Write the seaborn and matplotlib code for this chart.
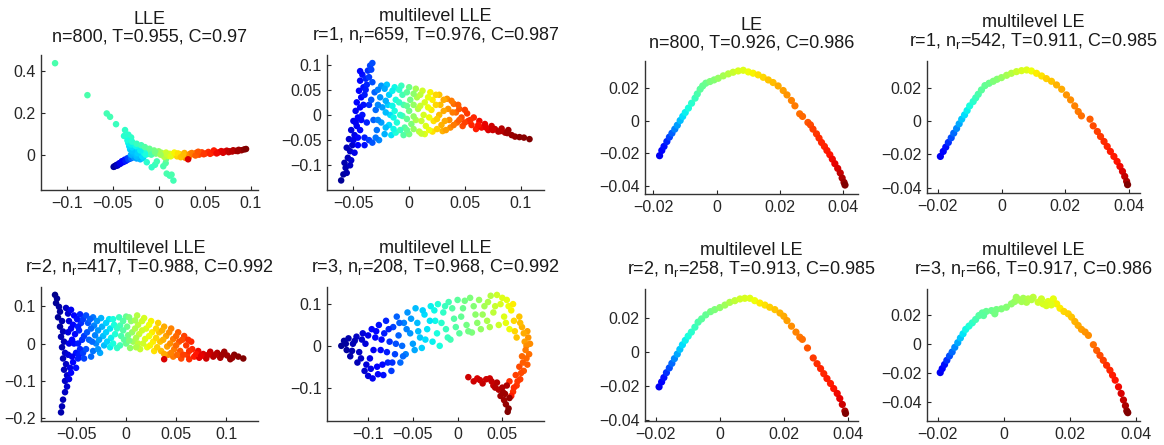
import numpy as np
import pandas as pd
import matplotlib
matplotlib.use("Agg")
import matplotlib.pyplot as plt
from matplotlib.ticker import FuncFormatter
import seaborn as sns

# points: (x, y, colour value 0..1 on jet)
lle_pts = [
    (-0.1127, 0.435, 0.44), (-0.0775, 0.283, 0.44), (-0.0565, 0.196, 0.43), (-0.0529, 0.180, 0.43),
    (-0.0464, 0.145, 0.42), (-0.0366, 0.117, 0.41), (-0.0377, 0.089, 0.40), (-0.0330, 0.095, 0.40),
    (-0.0300, 0.082, 0.41),
    (-0.049, -0.058, 0.02), (-0.047, -0.054, 0.04), (-0.046, -0.049, 0.05), (-0.044, -0.047, 0.07),
    (-0.043, -0.041, 0.08), (-0.041, -0.038, 0.10), (-0.040, -0.031, 0.11), (-0.038, -0.033, 0.13),
    (-0.037, -0.024, 0.14), (-0.035, -0.026, 0.16), (-0.034, -0.017, 0.18), (-0.032, -0.020, 0.20),
    (-0.031, -0.010, 0.22), (-0.029, -0.013, 0.24), (-0.028, -0.004, 0.26), (-0.026, -0.008, 0.28),
    (-0.030, -0.003, 0.25), (-0.024, -0.018, 0.29), (-0.020, -0.022, 0.31), (-0.017, -0.016, 0.33),
    (-0.022, -0.012, 0.30),
    (-0.048, -0.055, 0.03), (-0.045, -0.052, 0.06), (-0.042, -0.044, 0.09), (-0.039, -0.036, 0.12),
    (-0.036, -0.030, 0.15), (-0.033, -0.022, 0.19), (-0.030, -0.017, 0.23), (-0.027, -0.012, 0.27),
    (-0.025, -0.004, 0.29),
    (-0.030, 0.000, 0.30), (-0.028, 0.010, 0.31), (-0.031, 0.025, 0.33), (-0.032, 0.040, 0.34),
    (-0.033, 0.055, 0.36), (-0.034, 0.068, 0.38), (-0.024, -0.010, 0.31), (-0.024, 0.002, 0.32),
    (-0.022, 0.015, 0.34), (-0.026, 0.030, 0.35), (-0.021, 0.040, 0.38), (-0.027, 0.050, 0.37),
    (-0.018, -0.008, 0.34), (-0.016, 0.008, 0.37), (-0.013, 0.022, 0.40), (-0.018, 0.028, 0.39),
    (-0.011, 0.004, 0.40), (-0.023, 0.008, 0.33), (-0.029, 0.018, 0.32), (-0.029, 0.035, 0.34),
    (-0.030, 0.048, 0.36), (-0.025, 0.042, 0.37), (-0.020, 0.020, 0.36), (-0.014, 0.000, 0.38),
    (-0.029, 0.062, 0.40), (-0.024, 0.052, 0.42), (-0.019, 0.045, 0.43), (-0.015, 0.036, 0.45),
    (-0.010, 0.028, 0.47), (-0.005, 0.020, 0.49), (-0.008, 0.012, 0.47), (0.000, 0.016, 0.52),
    (-0.003, 0.005, 0.50), (0.003, 0.009, 0.55), (-0.008, 0.000, 0.44), (-0.004, 0.012, 0.49),
    (-0.013, -0.036, 0.40), (-0.0076, -0.060, 0.41), (-0.004, -0.048, 0.42), (-0.002, -0.032, 0.43),
    (0.005, -0.055, 0.44), (0.0076, -0.040, 0.45), (0.008, -0.020, 0.48), (0.0087, -0.090, 0.44),
    (0.012, -0.100, 0.43), (0.014, -0.095, 0.44), (0.016, -0.123, 0.43),
    (0.005, 0.001, 0.58), (0.008, 0.010, 0.60), (0.010, -0.006, 0.60), (0.012, 0.004, 0.62),
    (0.015, -0.002, 0.64), (0.006, -0.010, 0.57), (0.002, 0.000, 0.54), (0.009, 0.002, 0.59),
    (0.013, -0.008, 0.62),
    (0.018, 0.005, 0.66), (0.020, -0.008, 0.68), (0.023, 0.002, 0.69), (0.026, -0.006, 0.71),
    (0.028, 0.008, 0.72), (0.031, -0.004, 0.74), (0.034, 0.004, 0.75), (0.029, -0.015, 0.76),
    (0.017, 0.010, 0.65), (0.021, 0.006, 0.67), (0.024, -0.012, 0.70), (0.027, 0.000, 0.71),
    (0.033, -0.010, 0.76),
    (0.032, -0.022, 0.92), (0.038, 0.002, 0.80), (0.041, 0.009, 0.82), (0.044, 0.000, 0.83),
    (0.047, 0.011, 0.84), (0.051, 0.006, 0.85), (0.054, 0.013, 0.86), (0.058, 0.009, 0.87),
    (0.061, 0.015, 0.88), (0.036, 0.008, 0.78), (0.040, -0.004, 0.81), (0.043, 0.014, 0.82),
    (0.049, 0.002, 0.85), (0.056, 0.004, 0.87), (0.060, 0.020, 0.88),
    (0.065, 0.011, 0.90), (0.068, 0.017, 0.91), (0.071, 0.014, 0.92), (0.074, 0.019, 0.93),
    (0.077, 0.016, 0.94), (0.081, 0.021, 0.95), (0.084, 0.018, 0.96), (0.087, 0.023, 0.97),
    (0.090, 0.021, 0.98), (0.093, 0.025, 0.99), (0.095, 0.027, 1.00), (0.063, 0.006, 0.90),
    (0.070, 0.009, 0.92), (0.076, 0.012, 0.94), (0.080, 0.015, 0.95), (0.086, 0.017, 0.97),
]

mlle1_pts = [
    (-0.061, -0.130, 0.02), (-0.059, -0.118, 0.03), (-0.057, -0.105, 0.04), (-0.058, -0.095, 0.04),
    (-0.055, -0.085, 0.05), (-0.053, -0.072, 0.06), (-0.056, -0.065, 0.05), (-0.051, -0.060, 0.07),
    (-0.054, -0.048, 0.07), (-0.049, -0.040, 0.09), (-0.052, -0.030, 0.08), (-0.047, -0.022, 0.10),
    (-0.050, -0.012, 0.09), (-0.046, -0.005, 0.11), (-0.048, 0.008, 0.10), (-0.044, 0.015, 0.12),
    (-0.047, 0.025, 0.11), (-0.043, 0.035, 0.13), (-0.045, 0.048, 0.12), (-0.041, 0.055, 0.14),
    (-0.044, 0.068, 0.13), (-0.042, 0.080, 0.14), (-0.044, 0.087, 0.13), (-0.039, 0.072, 0.16),
    (-0.037, 0.088, 0.17), (-0.035, 0.098, 0.19), (-0.033, 0.103, 0.20), (-0.038, 0.060, 0.16),
    (-0.040, 0.040, 0.15), (-0.036, 0.020, 0.17), (-0.042, 0.000, 0.14), (-0.038, -0.015, 0.16),
    (-0.044, -0.030, 0.13), (-0.040, -0.045, 0.15), (-0.046, -0.060, 0.12), (-0.036, -0.050, 0.18),
    (-0.049, -0.075, 0.09), (-0.052, -0.090, 0.07), (-0.043, -0.010, 0.13), (-0.041, 0.020, 0.14),
    (-0.039, 0.050, 0.15), (-0.046, -0.045, 0.11), (-0.040, -0.060, 0.14), (-0.048, -0.015, 0.10),
    (-0.036, 0.075, 0.18), (-0.034, 0.090, 0.19), (-0.053, -0.100, 0.06), (-0.056, -0.115, 0.04),
    (-0.050, -0.050, 0.09),
    (-0.033, 0.065, 0.20), (-0.031, 0.045, 0.22), (-0.034, 0.030, 0.21), (-0.030, 0.010, 0.23),
    (-0.032, -0.010, 0.22), (-0.029, -0.030, 0.24), (-0.033, -0.055, 0.21), (-0.027, -0.050, 0.26),
    (-0.025, 0.058, 0.27), (-0.026, 0.035, 0.27), (-0.024, 0.015, 0.28), (-0.025, -0.015, 0.28),
    (-0.022, -0.038, 0.30), (-0.028, 0.050, 0.25), (-0.028, 0.020, 0.26), (-0.028, -0.010, 0.26),
    (-0.030, -0.045, 0.24),
    (-0.020, 0.060, 0.32), (-0.018, 0.040, 0.33), (-0.019, 0.020, 0.33), (-0.017, 0.000, 0.34),
    (-0.018, -0.020, 0.34), (-0.016, -0.040, 0.35), (-0.013, 0.055, 0.37), (-0.012, 0.030, 0.38),
    (-0.013, 0.008, 0.38), (-0.011, -0.015, 0.39), (-0.012, -0.035, 0.39), (-0.022, 0.052, 0.29),
    (-0.021, 0.028, 0.30), (-0.021, 0.005, 0.31), (-0.021, -0.025, 0.31), (-0.015, 0.048, 0.36),
    (-0.015, 0.018, 0.37), (-0.014, -0.005, 0.37), (-0.014, -0.028, 0.37),
    (-0.007, 0.058, 0.42), (-0.006, 0.040, 0.43), (-0.005, 0.020, 0.44), (-0.006, -0.002, 0.44),
    (-0.004, -0.025, 0.45), (-0.005, -0.040, 0.45), (0.000, 0.055, 0.48), (0.001, 0.030, 0.49),
    (0.000, 0.008, 0.49), (0.002, -0.018, 0.50), (0.000, -0.038, 0.49), (-0.009, 0.050, 0.40),
    (-0.009, 0.025, 0.41), (-0.008, 0.000, 0.41), (-0.008, -0.030, 0.42), (-0.002, 0.045, 0.46),
    (-0.002, 0.018, 0.47), (-0.002, -0.008, 0.47), (-0.002, -0.030, 0.47),
    (0.006, 0.052, 0.55), (0.007, 0.035, 0.56), (0.008, 0.012, 0.57), (0.006, -0.010, 0.56),
    (0.009, -0.033, 0.58), (0.012, 0.048, 0.60), (0.014, 0.025, 0.61), (0.013, 0.000, 0.61),
    (0.015, -0.022, 0.62), (0.014, -0.038, 0.62), (0.004, 0.042, 0.52), (0.004, 0.020, 0.53),
    (0.004, -0.003, 0.53), (0.004, -0.028, 0.53), (0.010, 0.040, 0.58), (0.010, 0.018, 0.59),
    (0.011, -0.012, 0.59), (0.011, -0.037, 0.59),
    (0.019, 0.045, 0.65), (0.021, 0.030, 0.66), (0.020, 0.010, 0.66), (0.022, -0.012, 0.67),
    (0.021, -0.033, 0.67), (0.027, 0.040, 0.70), (0.028, 0.020, 0.71), (0.027, 0.000, 0.71),
    (0.029, -0.020, 0.72), (0.030, -0.032, 0.72), (0.034, 0.032, 0.75), (0.035, 0.012, 0.75),
    (0.036, -0.010, 0.76), (0.037, -0.025, 0.76), (0.017, 0.035, 0.63), (0.017, 0.015, 0.64),
    (0.018, -0.005, 0.64), (0.018, -0.030, 0.64), (0.024, 0.040, 0.68), (0.024, 0.020, 0.68),
    (0.025, -0.008, 0.69), (0.025, -0.028, 0.69), (0.031, 0.030, 0.73), (0.031, 0.008, 0.73),
    (0.032, -0.012, 0.73), (0.033, -0.030, 0.74),
    (0.040, 0.022, 0.79), (0.042, 0.005, 0.80), (0.043, -0.015, 0.80), (0.045, 0.012, 0.82),
    (0.047, -0.005, 0.83), (0.048, -0.022, 0.83), (0.052, 0.003, 0.85), (0.053, -0.012, 0.86),
    (0.056, -0.020, 0.87), (0.058, -0.005, 0.87), (0.060, -0.028, 0.88), (0.038, 0.028, 0.78),
    (0.039, 0.005, 0.78), (0.040, -0.020, 0.78), (0.044, 0.020, 0.81), (0.045, -0.010, 0.81),
    (0.050, 0.010, 0.84), (0.050, -0.015, 0.84), (0.055, -0.010, 0.86),
    (0.063, -0.012, 0.90), (0.065, -0.025, 0.90), (0.068, -0.018, 0.91), (0.071, -0.030, 0.92),
    (0.074, -0.022, 0.93), (0.077, -0.028, 0.94), (0.080, -0.033, 0.95), (0.083, -0.027, 0.95),
    (0.086, -0.035, 0.96), (0.089, -0.030, 0.97), (0.092, -0.040, 0.98), (0.095, -0.043, 0.98),
    (0.103, -0.045, 0.99), (0.108, -0.048, 1.00), (0.062, -0.020, 0.89), (0.069, -0.025, 0.91),
    (0.075, -0.030, 0.93), (0.082, -0.032, 0.95), (0.088, -0.036, 0.97), (0.099, -0.044, 0.99),
]

mlle2_pts = [
    (-0.071, 0.130, 0.01), (-0.069, 0.120, 0.02), (-0.070, 0.108, 0.02), (-0.067, 0.098, 0.03),
    (-0.066, 0.085, 0.03), (-0.068, 0.070, 0.02), (-0.064, 0.060, 0.04), (-0.066, 0.045, 0.03),
    (-0.063, 0.032, 0.05), (-0.065, 0.018, 0.04), (-0.062, 0.005, 0.05), (-0.064, -0.010, 0.04),
    (-0.061, -0.025, 0.06), (-0.063, -0.040, 0.05), (-0.060, -0.055, 0.06), (-0.062, -0.070, 0.05),
    (-0.059, -0.085, 0.07), (-0.061, -0.100, 0.06), (-0.059, -0.115, 0.07), (-0.061, -0.130, 0.06),
    (-0.063, -0.150, 0.05), (-0.064, -0.168, 0.05), (-0.065, -0.184, 0.04), (-0.058, 0.080, 0.07),
    (-0.060, 0.095, 0.06), (-0.057, 0.060, 0.08), (-0.058, 0.030, 0.08), (-0.057, 0.000, 0.09),
    (-0.058, -0.030, 0.08), (-0.056, -0.065, 0.09), (-0.057, -0.095, 0.09),
    (-0.052, 0.075, 0.12), (-0.053, 0.050, 0.12), (-0.051, 0.025, 0.13), (-0.052, 0.000, 0.13),
    (-0.050, -0.025, 0.14), (-0.053, -0.050, 0.12), (-0.055, -0.078, 0.11), (-0.046, 0.078, 0.16),
    (-0.045, 0.055, 0.17), (-0.047, 0.035, 0.16), (-0.044, 0.010, 0.17), (-0.046, -0.015, 0.16),
    (-0.048, -0.040, 0.15), (-0.050, -0.065, 0.14), (-0.055, 0.090, 0.10), (-0.055, 0.040, 0.10),
    (-0.054, 0.010, 0.11), (-0.054, -0.035, 0.10), (-0.049, 0.065, 0.14), (-0.048, 0.045, 0.15),
    (-0.048, 0.000, 0.15), (-0.047, -0.030, 0.15), (-0.043, 0.065, 0.18), (-0.042, 0.020, 0.18),
    (-0.043, -0.025, 0.18),
    (-0.040, 0.075, 0.20), (-0.038, 0.055, 0.21), (-0.039, 0.030, 0.21), (-0.037, 0.010, 0.22),
    (-0.040, -0.015, 0.20), (-0.042, -0.040, 0.19), (-0.033, 0.070, 0.24), (-0.032, 0.048, 0.25),
    (-0.031, 0.022, 0.25), (-0.030, 0.000, 0.26), (-0.033, -0.020, 0.24), (-0.035, -0.035, 0.23),
    (-0.036, 0.065, 0.22), (-0.035, 0.040, 0.23), (-0.034, 0.005, 0.23),
    (-0.025, 0.068, 0.30), (-0.024, 0.045, 0.30), (-0.023, 0.020, 0.31), (-0.022, -0.005, 0.31),
    (-0.026, -0.025, 0.29), (-0.017, 0.065, 0.35), (-0.016, 0.040, 0.35), (-0.015, 0.015, 0.36),
    (-0.016, -0.010, 0.36), (-0.012, 0.050, 0.38), (-0.011, 0.025, 0.39), (-0.029, 0.060, 0.27),
    (-0.028, 0.035, 0.27), (-0.027, 0.010, 0.28), (-0.028, -0.015, 0.27), (-0.020, 0.055, 0.33),
    (-0.020, 0.030, 0.33), (-0.019, 0.005, 0.33), (-0.013, 0.065, 0.38), (-0.013, 0.000, 0.38),
    (-0.007, 0.070, 0.42), (-0.006, 0.048, 0.43), (-0.005, 0.020, 0.44), (-0.006, -0.005, 0.43),
    (-0.009, -0.012, 0.41), (0.000, 0.072, 0.47), (0.001, 0.045, 0.48), (0.002, 0.022, 0.49),
    (0.000, 0.000, 0.48), (0.005, 0.060, 0.52), (0.006, 0.030, 0.53), (0.007, 0.005, 0.54),
    (0.004, -0.012, 0.52), (-0.009, 0.040, 0.41), (-0.003, 0.060, 0.45), (-0.003, 0.035, 0.45),
    (-0.002, 0.010, 0.46), (0.003, 0.070, 0.50), (0.003, 0.008, 0.50),
    (0.011, 0.075, 0.57), (0.012, 0.050, 0.58), (0.013, 0.025, 0.59), (0.012, 0.000, 0.58),
    (0.014, -0.015, 0.59), (0.018, 0.068, 0.61), (0.020, 0.040, 0.62), (0.019, 0.012, 0.62),
    (0.021, -0.010, 0.63), (0.025, 0.060, 0.65), (0.026, 0.030, 0.66), (0.027, 0.005, 0.66),
    (0.028, -0.020, 0.67), (0.009, 0.062, 0.55), (0.009, 0.040, 0.56), (0.010, 0.015, 0.56),
    (0.010, -0.010, 0.56), (0.016, 0.060, 0.60), (0.016, 0.035, 0.60), (0.017, 0.000, 0.60),
    (0.023, 0.050, 0.64), (0.023, 0.020, 0.64), (0.024, -0.005, 0.65),
    (0.032, 0.055, 0.69), (0.033, 0.030, 0.70), (0.034, 0.005, 0.70), (0.035, -0.020, 0.71),
    (0.038, 0.045, 0.73), (0.040, 0.020, 0.74), (0.041, -0.008, 0.74), (0.042, -0.030, 0.75),
    (0.045, 0.040, 0.77), (0.047, 0.012, 0.78), (0.048, -0.015, 0.78), (0.047, -0.035, 0.78),
    (0.030, 0.040, 0.68), (0.030, 0.015, 0.68), (0.031, -0.010, 0.69), (0.036, 0.035, 0.72),
    (0.037, 0.010, 0.72), (0.038, -0.028, 0.73), (0.043, 0.030, 0.76), (0.044, 0.000, 0.76),
    (0.045, -0.025, 0.77),
    (0.052, 0.030, 0.81), (0.053, 0.005, 0.82), (0.054, -0.020, 0.82), (0.055, -0.040, 0.83),
    (0.058, 0.020, 0.84), (0.060, -0.005, 0.85), (0.061, -0.030, 0.85), (0.063, -0.042, 0.86),
    (0.065, 0.005, 0.87), (0.066, -0.015, 0.87), (0.068, -0.035, 0.88), (0.050, 0.020, 0.80),
    (0.050, -0.005, 0.80), (0.051, -0.030, 0.80), (0.056, 0.010, 0.83), (0.057, -0.030, 0.84),
    (0.062, 0.010, 0.86), (0.063, -0.020, 0.86),
    (0.038, -0.042, 0.92), (0.072, -0.020, 0.90), (0.073, -0.038, 0.91), (0.077, -0.028, 0.92),
    (0.080, -0.040, 0.93), (0.084, -0.022, 0.94), (0.087, -0.035, 0.95), (0.091, -0.025, 0.96),
    (0.094, -0.038, 0.96), (0.098, -0.022, 0.97), (0.101, -0.032, 0.97), (0.104, -0.042, 0.98),
    (0.108, -0.030, 0.99), (0.112, -0.035, 0.99), (0.117, -0.040, 1.00), (0.070, -0.028, 0.89),
    (0.075, -0.033, 0.91), (0.082, -0.030, 0.93), (0.089, -0.030, 0.95), (0.096, -0.030, 0.97),
    (0.106, -0.038, 0.98),
]

mlle3_pts = [
    (-0.130, 0.000, 0.02), (-0.127, 0.012, 0.03), (-0.122, 0.018, 0.04), (-0.124, -0.010, 0.03),
    (-0.120, -0.025, 0.04), (-0.117, 0.005, 0.05), (-0.113, 0.022, 0.06), (-0.112, -0.040, 0.05),
    (-0.110, -0.015, 0.06), (-0.106, 0.030, 0.08), (-0.104, -0.060, 0.07), (-0.103, 0.005, 0.08),
    (-0.100, -0.072, 0.08), (-0.098, -0.030, 0.09), (-0.095, -0.078, 0.10), (-0.096, 0.040, 0.11),
    (-0.125, 0.005, 0.03), (-0.118, -0.012, 0.04), (-0.115, 0.012, 0.05), (-0.108, -0.030, 0.06),
    (-0.107, 0.015, 0.07), (-0.102, -0.045, 0.08), (-0.100, 0.025, 0.09), (-0.097, -0.055, 0.09),
    (-0.094, -0.010, 0.10),
    (-0.092, 0.020, 0.12), (-0.090, -0.050, 0.12), (-0.088, 0.050, 0.14), (-0.086, -0.010, 0.13),
    (-0.083, -0.070, 0.14), (-0.082, 0.030, 0.15), (-0.080, 0.060, 0.16), (-0.078, -0.040, 0.16),
    (-0.076, 0.010, 0.17), (-0.074, -0.060, 0.18), (-0.072, 0.045, 0.19), (-0.070, -0.020, 0.19),
    (-0.091, 0.035, 0.12), (-0.089, -0.068, 0.11), (-0.085, 0.015, 0.13), (-0.084, -0.045, 0.13),
    (-0.079, -0.015, 0.15), (-0.077, 0.040, 0.16), (-0.073, -0.040, 0.17),
    (-0.068, 0.070, 0.22), (-0.066, 0.025, 0.22), (-0.064, -0.040, 0.23), (-0.062, 0.000, 0.23),
    (-0.060, 0.055, 0.25), (-0.058, -0.020, 0.25), (-0.056, 0.080, 0.27), (-0.053, 0.030, 0.27),
    (-0.050, 0.005, 0.28), (-0.069, 0.005, 0.20), (-0.065, 0.055, 0.22), (-0.061, -0.025, 0.23),
    (-0.057, 0.040, 0.25), (-0.052, 0.065, 0.28), (-0.048, -0.010, 0.29),
    (-0.047, 0.090, 0.31), (-0.045, 0.055, 0.31), (-0.042, 0.020, 0.32), (-0.040, -0.005, 0.33),
    (-0.037, 0.075, 0.34), (-0.034, 0.040, 0.35), (-0.030, 0.095, 0.36), (-0.028, 0.010, 0.36),
    (-0.025, 0.060, 0.37), (-0.022, 0.100, 0.39), (-0.020, 0.000, 0.38), (-0.044, 0.035, 0.31),
    (-0.039, 0.085, 0.33), (-0.036, 0.015, 0.34), (-0.031, 0.060, 0.35), (-0.026, 0.085, 0.37),
    (-0.023, 0.030, 0.38),
    (-0.016, 0.080, 0.41), (-0.013, 0.040, 0.42), (-0.010, 0.105, 0.43), (-0.008, 0.015, 0.43),
    (-0.004, 0.065, 0.45), (0.000, 0.110, 0.46), (0.002, 0.030, 0.46), (0.006, 0.090, 0.48),
    (0.010, 0.050, 0.49), (0.014, 0.115, 0.50), (0.016, 0.032, 0.50), (0.020, 0.075, 0.52),
    (0.024, 0.110, 0.53), (0.026, 0.040, 0.53), (0.030, 0.095, 0.55), (0.033, 0.060, 0.56),
    (0.037, 0.120, 0.57), (0.040, 0.080, 0.58), (-0.018, 0.055, 0.40), (-0.014, 0.095, 0.42),
    (-0.011, 0.020, 0.42), (-0.006, 0.090, 0.45), (-0.002, 0.045, 0.45), (0.004, 0.070, 0.47),
    (0.008, 0.108, 0.49), (0.012, 0.035, 0.49), (0.018, 0.095, 0.51), (0.022, 0.055, 0.52),
    (0.028, 0.075, 0.54), (0.034, 0.105, 0.56), (0.036, 0.045, 0.56), (0.042, 0.095, 0.59),
    (0.044, 0.122, 0.60), (0.046, 0.050, 0.60), (0.048, 0.100, 0.61), (0.052, 0.070, 0.62),
    (0.055, 0.110, 0.63), (0.058, 0.040, 0.64), (0.060, 0.085, 0.65), (0.050, 0.115, 0.62),
    (0.054, 0.055, 0.63), (0.057, 0.095, 0.64), (0.062, 0.100, 0.66),
    (0.063, 0.060, 0.68), (0.066, 0.020, 0.70), (0.069, 0.070, 0.70), (0.072, 0.045, 0.72),
    (0.075, 0.010, 0.74), (0.078, 0.035, 0.74), (0.081, 0.005, 0.76), (0.064, 0.035, 0.68),
    (0.070, 0.055, 0.71), (0.074, 0.030, 0.73), (0.077, 0.000, 0.76), (0.079, 0.020, 0.75),
    (0.080, -0.020, 0.79), (0.076, -0.010, 0.78), (0.072, -0.025, 0.80), (0.078, -0.045, 0.81),
    (0.074, -0.060, 0.82), (0.069, -0.050, 0.83), (0.070, -0.080, 0.84), (0.065, -0.070, 0.84),
    (0.066, -0.095, 0.85), (0.062, -0.110, 0.86), (0.058, -0.085, 0.86), (0.077, -0.030, 0.80),
    (0.073, -0.040, 0.81), (0.071, -0.065, 0.83), (0.067, -0.085, 0.85), (0.063, -0.100, 0.86),
    (0.060, -0.120, 0.88),
    (0.012, -0.075, 0.93), (0.018, -0.085, 0.93), (0.022, -0.078, 0.92), (0.028, -0.090, 0.94),
    (0.032, -0.080, 0.93), (0.036, -0.078, 0.93), (0.040, -0.095, 0.94), (0.044, -0.088, 0.95),
    (0.046, -0.105, 0.95), (0.050, -0.100, 0.96), (0.048, -0.120, 0.97), (0.052, -0.130, 0.97),
    (0.054, -0.140, 0.98), (0.057, -0.150, 0.99), (0.056, -0.158, 1.00), (0.058, -0.125, 0.98),
    (0.053, -0.115, 0.97), (0.055, -0.095, 0.96), (0.051, -0.112, 0.97), (0.038, -0.085, 0.94),
    (0.025, -0.082, 0.93), (0.042, -0.100, 0.95),
]

le_pts = [
    (-0.0180, -0.0214, 0.10), (-0.0173, -0.0182, 0.12), (-0.0166, -0.0157, 0.14), (-0.0157, -0.0127, 0.16),
    (-0.0149, -0.0100, 0.19), (-0.0141, -0.0076, 0.22), (-0.0132, -0.0051, 0.25), (-0.0124, -0.0027, 0.28),
    (-0.0115, 0.0002, 0.31), (-0.0107, 0.0027, 0.34), (-0.0099, 0.0051, 0.36), (-0.0089, 0.0078, 0.38),
    (-0.0079, 0.0108, 0.40), (-0.0068, 0.0139, 0.42), (-0.0061, 0.0165, 0.44), (-0.0052, 0.0194, 0.46),
    (-0.0044, 0.0214, 0.47), (-0.0034, 0.0231, 0.48), (-0.0021, 0.0241, 0.50), (-0.0008, 0.0251, 0.51),
    (0.0005, 0.0261, 0.53), (0.0021, 0.0276, 0.55), (0.0037, 0.0288, 0.57), (0.0052, 0.0298, 0.59),
    (0.0068, 0.0306, 0.61), (0.0084, 0.0310, 0.62), (0.0100, 0.0300, 0.64), (0.0115, 0.0292, 0.65),
    (0.0131, 0.0282, 0.67), (0.0147, 0.0267, 0.68), (0.0163, 0.0251, 0.70), (0.0178, 0.0235, 0.71),
    (0.0194, 0.0214, 0.73), (0.0210, 0.0186, 0.74), (0.0222, 0.0159, 0.75), (0.0236, 0.0125, 0.77),
    (0.0247, 0.0092, 0.78), (0.0262, 0.0043, 0.79), (0.0271, 0.0027, 0.80), (0.0288, -0.0010, 0.82),
    (0.0296, -0.0025, 0.83), (0.0304, -0.0051, 0.84), (0.0315, -0.0080, 0.85), (0.0323, -0.0106, 0.86),
    (0.0331, -0.0133, 0.87), (0.0340, -0.0157, 0.87), (0.0348, -0.0182, 0.88), (0.0357, -0.0208, 0.89),
    (0.0365, -0.0235, 0.90), (0.0373, -0.0263, 0.91), (0.0382, -0.0292, 0.92), (0.0390, -0.0320, 0.94),
    (0.0396, -0.0351, 0.96), (0.0402, -0.0378, 0.98), (0.0405, -0.0394, 1.00),
]

mle1_pts = [
    (-0.0192, -0.0212, 0.10), (-0.0183, -0.0182, 0.12), (-0.0175, -0.0156, 0.14), (-0.0167, -0.0128, 0.17),
    (-0.0158, -0.0100, 0.20), (-0.0150, -0.0072, 0.23), (-0.0141, -0.0044, 0.26), (-0.0133, -0.0016, 0.29),
    (-0.0125, 0.0012, 0.32), (-0.0116, 0.0038, 0.34), (-0.0108, 0.0064, 0.36), (-0.0100, 0.0092, 0.38),
    (-0.0089, 0.0118, 0.40), (-0.0081, 0.0140, 0.42), (-0.0073, 0.0162, 0.44), (-0.0063, 0.0188, 0.46),
    (-0.0052, 0.0214, 0.47), (-0.0039, 0.0228, 0.48), (-0.0026, 0.0240, 0.50), (-0.0014, 0.0252, 0.51),
    (0.0000, 0.0262, 0.53), (0.0016, 0.0276, 0.55), (0.0031, 0.0288, 0.57), (0.0047, 0.0298, 0.59),
    (0.0063, 0.0304, 0.61), (0.0079, 0.0308, 0.62), (0.0094, 0.0302, 0.64), (0.0110, 0.0288, 0.66),
    (0.0126, 0.0272, 0.67), (0.0141, 0.0256, 0.69), (0.0157, 0.0240, 0.70), (0.0173, 0.0218, 0.72),
    (0.0189, 0.0192, 0.73), (0.0204, 0.0158, 0.75), (0.0217, 0.0128, 0.76), (0.0230, 0.0092, 0.77),
    (0.0241, 0.0058, 0.78), (0.0251, 0.0032, 0.79), (0.0278, 0.0012, 0.81), (0.0288, -0.0028, 0.83),
    (0.0301, -0.0062, 0.84), (0.0311, -0.0092, 0.85), (0.0322, -0.0122, 0.86), (0.0332, -0.0152, 0.87),
    (0.0342, -0.0182, 0.88), (0.0353, -0.0212, 0.88), (0.0363, -0.0242, 0.89), (0.0372, -0.0272, 0.90),
    (0.0380, -0.0302, 0.92), (0.0387, -0.0332, 0.94), (0.0393, -0.0362, 0.96), (0.0396, -0.0382, 1.00),
]

mle2_pts = [
    (-0.0190, -0.0206, 0.10), (-0.0182, -0.0177, 0.12), (-0.0175, -0.0151, 0.14), (-0.0167, -0.0122, 0.17),
    (-0.0158, -0.0094, 0.20), (-0.0150, -0.0067, 0.23), (-0.0142, -0.0039, 0.26), (-0.0133, -0.0012, 0.29),
    (-0.0125, 0.0016, 0.32), (-0.0117, 0.0043, 0.34), (-0.0108, 0.0069, 0.36), (-0.0099, 0.0094, 0.38),
    (-0.0089, 0.0118, 0.40), (-0.0078, 0.0147, 0.42), (-0.0068, 0.0177, 0.44), (-0.0057, 0.0196, 0.46),
    (-0.0044, 0.0220, 0.47), (-0.0029, 0.0239, 0.49), (-0.0016, 0.0251, 0.50), (0.0000, 0.0263, 0.52),
    (0.0016, 0.0278, 0.54), (0.0031, 0.0294, 0.56), (0.0047, 0.0304, 0.58), (0.0063, 0.0314, 0.60),
    (0.0078, 0.0318, 0.61), (0.0094, 0.0318, 0.62), (0.0109, 0.0304, 0.64), (0.0125, 0.0290, 0.66),
    (0.0141, 0.0278, 0.67), (0.0156, 0.0265, 0.69), (0.0172, 0.0251, 0.70), (0.0188, 0.0231, 0.72),
    (0.0200, 0.0212, 0.73), (0.0210, 0.0186, 0.74), (0.0224, 0.0153, 0.76), (0.0238, 0.0118, 0.77),
    (0.0250, 0.0088, 0.78), (0.0258, 0.0075, 0.79), (0.0274, 0.0024, 0.82), (0.0292, -0.0035, 0.85),
    (0.0304, -0.0069, 0.86), (0.0315, -0.0098, 0.87), (0.0325, -0.0128, 0.87), (0.0335, -0.0157, 0.88),
    (0.0346, -0.0186, 0.88), (0.0356, -0.0216, 0.89), (0.0367, -0.0245, 0.90), (0.0375, -0.0275, 0.91),
    (0.0383, -0.0310, 0.93), (0.0391, -0.0349, 0.96), (0.0393, -0.0363, 1.00),
]

mle3_pts = [
    (-0.0192, -0.0198, 0.10), (-0.0186, -0.0171, 0.12), (-0.0179, -0.0143, 0.14), (-0.0172, -0.0114, 0.17),
    (-0.0164, -0.0084, 0.20), (-0.0156, -0.0057, 0.23), (-0.0148, -0.0025, 0.26), (-0.0139, 0.0007, 0.29),
    (-0.0131, 0.0039, 0.32), (-0.0123, 0.0068, 0.35), (-0.0115, 0.0098, 0.37), (-0.0105, 0.0121, 0.39),
    (-0.0095, 0.0143, 0.41), (-0.0085, 0.0166, 0.43), (-0.0075, 0.0193, 0.45), (-0.0065, 0.0211, 0.46),
    (-0.0053, 0.0221, 0.47), (-0.0037, 0.0227, 0.48), (-0.0022, 0.0234, 0.49), (-0.0007, 0.0239, 0.50),
    (0.0008, 0.0250, 0.51), (0.0023, 0.0273, 0.52), (0.0033, 0.0289, 0.53), (0.0043, 0.0302, 0.54),
    (0.0059, 0.0311, 0.55), (0.0074, 0.0307, 0.57), (0.0089, 0.0318, 0.58), (0.0104, 0.0284, 0.60),
    (0.0119, 0.0273, 0.61), (0.0134, 0.0289, 0.62), (0.0150, 0.0307, 0.63), (0.0160, 0.0273, 0.65),
    (0.0170, 0.0243, 0.66), (0.0182, 0.0221, 0.68), (0.0195, 0.0205, 0.69), (0.0205, 0.0182, 0.70),
    (0.0215, 0.0152, 0.72), (0.0225, 0.0125, 0.73), (0.0235, 0.0098, 0.74), (0.0246, 0.0080, 0.75),
    (0.0256, 0.0057, 0.76), (0.0271, -0.0007, 0.79), (0.0281, -0.0046, 0.81), (0.0291, -0.0080, 0.83),
    (0.0301, -0.0114, 0.84), (0.0311, -0.0148, 0.86), (0.0321, -0.0182, 0.87), (0.0329, -0.0216, 0.88),
    (0.0337, -0.0250, 0.89), (0.0347, -0.0296, 0.90), (0.0355, -0.0341, 0.92), (0.0362, -0.0386, 0.94),
    (0.0368, -0.0425, 0.96), (0.0372, -0.0461, 0.98), (0.0375, -0.0473, 1.00),
    (0.0038, 0.0318, 0.54), (0.0069, 0.0284, 0.56), (0.0084, 0.0302, 0.57), (0.0114, 0.0307, 0.60),
    (0.0129, 0.0261, 0.61), (0.0144, 0.0266, 0.62), (0.0054, 0.0289, 0.55), (-0.0027, 0.0205, 0.49),
    (-0.0061, 0.0193, 0.46),
]

titles = [
    "LLE\nn=800, T=0.955, C=0.97",
    "multilevel LLE\nr=1, n$_r$=659, T=0.976, C=0.987",
    "multilevel LLE\nr=2, n$_r$=417, T=0.988, C=0.992",
    "multilevel LLE\nr=3, n$_r$=208, T=0.968, C=0.992",
    "LE\nn=800, T=0.926, C=0.986",
    "multilevel LE\nr=1, n$_r$=542, T=0.911, C=0.985",
    "multilevel LE\nr=2, n$_r$=258, T=0.913, C=0.985",
    "multilevel LE\nr=3, n$_r$=66, T=0.917, C=0.986",
]

x_ticks = [
    [-0.1, -0.05, 0, 0.05, 0.1], [-0.05, 0, 0.05, 0.1], [-0.05, 0, 0.05, 0.1], [-0.1, -0.05, 0, 0.05],
    [-0.02, 0, 0.02, 0.04], [-0.02, 0, 0.02, 0.04], [-0.02, 0, 0.02, 0.04], [-0.02, 0, 0.02, 0.04],
]
y_ticks = [
    [0, 0.2, 0.4], [-0.1, -0.05, 0, 0.05, 0.1], [-0.2, -0.1, 0, 0.1], [-0.1, 0, 0.1],
    [-0.04, -0.02, 0, 0.02], [-0.04, -0.02, 0, 0.02], [-0.04, -0.02, 0, 0.02], [-0.04, -0.02, 0, 0.02],
]
x_lims = [(-0.128, 0.108), (-0.0737, 0.121), (-0.085, 0.1317), (-0.146, 0.0966),
          (-0.0226, 0.0446), (-0.0234, 0.0435), (-0.0234, 0.0432), (-0.0232, 0.0412)]
y_lims = [(-0.168, 0.474), (-0.149, 0.119), (-0.207, 0.151), (-0.180, 0.141),
          (-0.0449, 0.0367), (-0.0432, 0.0362), (-0.0408, 0.0373), (-0.053, 0.0375)]

all_pts = [lle_pts, mlle1_pts, mlle2_pts, mlle3_pts, le_pts, mle1_pts, mle2_pts, mle3_pts]

sns.set_theme(style="white")
plt.rcParams["font.family"] = ["Liberation Sans", "DejaVu Sans"]
plt.rcParams["mathtext.default"] = "regular"

W, H = 1164, 445
fig = plt.figure(figsize=(W / 100, H / 100), dpi=100)

# axes boxes in pixels: left, top, right, bottom
boxes = [(41, 55, 258, 190), (327, 55, 544, 190), (41, 287, 258, 421), (327, 287, 544, 421),
         (645, 61, 858, 194), (927, 61, 1140, 193), (645, 289, 858, 421), (927, 289, 1140, 421)]

jet = matplotlib.colormaps["jet"]
fmt = FuncFormatter(lambda v, p: ("%g" % round(v, 4)).replace("-", "\u2212"))

for i, pts in enumerate(all_pts):
    l, t, r, b = boxes[i]
    ax = fig.add_axes([l / W, 1 - b / H, (r - l) / W, (b - t) / H])
    df = pd.DataFrame(pts, columns=["x", "y", "c"])
    size = 22 if i < 4 else 27
    sns.scatterplot(data=df, x="x", y="y", hue="c", palette=jet, hue_norm=(0, 1),
                    s=size, linewidth=0, legend=False, ax=ax)
    ax.set_xlim(x_lims[i])
    ax.set_ylim(y_lims[i])
    ax.set_xticks(x_ticks[i])
    ax.set_yticks(y_ticks[i])
    ax.xaxis.set_major_formatter(fmt)
    ax.yaxis.set_major_formatter(fmt)
    ax.set_xlabel("")
    ax.set_ylabel("")
    sns.despine(ax=ax)
    for side in ["left", "bottom"]:
        ax.spines[side].set_color("#333333")
        ax.spines[side].set_linewidth(1.0)
    ax.tick_params(direction="in", length=3, width=0.8, labelsize=11.5, pad=4,
                   colors="#262626", bottom=True, left=True)
    ax.set_title(titles[i], fontsize=13, pad=7, va="bottom", linespacing=1.0, color="#1a1a1a")

fig.savefig("out.png", dpi=100)
